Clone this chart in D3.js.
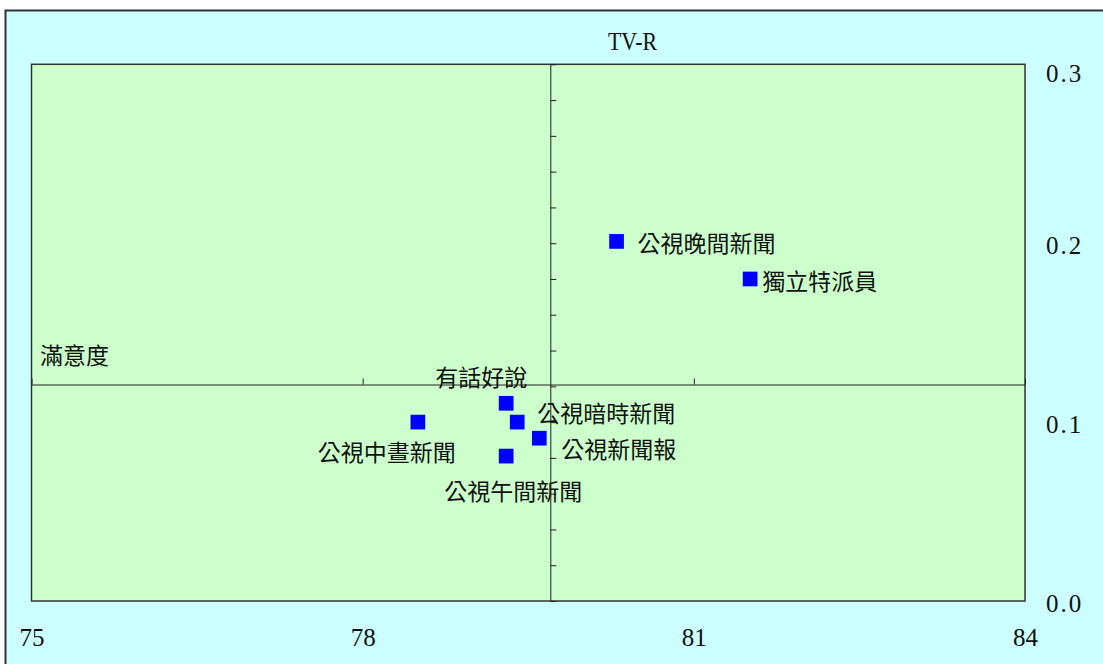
<!DOCTYPE html>
<html>
<head>
<meta charset="utf-8">
<script src="https://cdn.jsdelivr.net/npm/d3@7"></script>
<style>
  body { margin: 0; background: #fff; }
  text { font-family: "Liberation Serif", "Noto Sans CJK TC", serif; fill: #111; }
  .cjk { font-family: "Noto Sans CJK TC", sans-serif; font-size: 23px; }
  .num { font-size: 25px; }
</style>
</head>
<body>
<svg id="chart" width="1103" height="664"></svg>
<script>
// data
const programs = ["公視晚間新聞", "獨立特派員", "有話好說", "公視暗時新聞", "公視新聞報", "公視午間新聞", "公視中晝新聞"];
const satisfaction = [80.30, 81.51, 79.30, 79.40, 79.60, 79.30, 78.50];
const tvr = [0.201, 0.180, 0.1105, 0.100, 0.091, 0.081, 0.100];
const xTicks = [75, 78, 81, 84];
const yTicks = [0, 0.1, 0.2, 0.3];
const xMid = 79.7;   // crossing line (mean satisfaction)
const yMid = 0.121;  // crossing line (mean TV-R)

// label placement relative to each square: [dx, dy, anchor]
const labelPlace = {
  "公視晚間新聞": [21, 3, "start"],
  "獨立特派員": [12, 3, "start"],
  "有話好說": [21, -25, "end"],
  "公視暗時新聞": [20, -8, "start"],
  "公視新聞報": [22, 12, "start"],
  "公視午間新聞": [7, 36, "middle"],
  "公視中晝新聞": [38, 31, "end"]
};

const svg = d3.select("#chart");
const pLeft = 31.5, pRight = 1025, pTop = 64.3, pBottom = 601;

const x = d3.scaleLinear().domain([75, 84]).range([pLeft, pRight]);
const y = d3.scaleLinear().domain([0, 0.3]).range([pBottom, pTop]);

// outer frame
svg.append("rect")
  .attr("x", 5.5).attr("y", 10.5)
  .attr("width", 1110).attr("height", 670)
  .attr("fill", "#ccffff")
  .attr("stroke", "#333").attr("stroke-width", 2);

// plot area
svg.append("rect")
  .attr("x", pLeft).attr("y", pTop)
  .attr("width", pRight - pLeft).attr("height", pBottom - pTop)
  .attr("fill", "#ccffcc")
  .attr("stroke", "#333").attr("stroke-width", 1.5);

// crossing lines with their ticks
const vAxis = svg.append("g")
  .attr("transform", `translate(${x(xMid)},0)`)
  .call(d3.axisRight(y).tickValues(d3.range(0, 0.301, 0.02)).tickSize(6).tickSizeOuter(0).tickFormat(""));
const hAxis = svg.append("g")
  .attr("transform", `translate(0,${y(yMid)})`)
  .call(d3.axisTop(x).tickValues(xTicks).tickSize(6).tickSizeOuter(0).tickFormat(""));
[vAxis, hAxis].forEach(g => {
  g.select(".domain").attr("stroke", "#222");
  g.selectAll(".tick line").attr("stroke", "#222");
});

// tick labels
const xLab = svg.append("g")
  .attr("transform", `translate(0,${pBottom})`)
  .call(d3.axisBottom(x).tickValues(xTicks).tickSize(0).tickPadding(0).tickFormat(d3.format("d")));
xLab.select(".domain").remove();
xLab.selectAll("text")
  .attr("class", "num")
  .attr("y", 36).attr("dy", "0.35em");

const yLab = svg.append("g")
  .attr("transform", `translate(${pRight},0)`)
  .call(d3.axisRight(y).tickValues(yTicks).tickSize(0).tickPadding(0).tickFormat(d3.format(".1f")));
yLab.select(".domain").remove();
yLab.selectAll("text")
  .attr("class", "num")
  .attr("x", 21)
  .attr("dy", d => d === 0.3 ? "0.7em" : "0.42em")
  .style("letter-spacing", "2px");

// axis titles
svg.append("text")
  .attr("x", 608).attr("y", 50)
  .attr("font-size", 25)
  .attr("textLength", 49)
  .attr("lengthAdjust", "spacingAndGlyphs")
  .text("TV-R");

svg.append("text")
  .attr("class", "cjk")
  .attr("x", 40).attr("y", y(yMid) - 29)
  .attr("dy", "0.35em")
  .text("滿意度");

// points
const pts = programs.map((name, i) => ({ name, sx: satisfaction[i], r: tvr[i] }));
const size = 14.7;

svg.append("g")
  .selectAll("rect")
  .data(pts)
  .join("rect")
    .attr("x", d => x(d.sx) - size / 2)
    .attr("y", d => y(d.r) - size / 2)
    .attr("width", size).attr("height", size)
    .attr("fill", "#0000ff");

svg.append("g")
  .selectAll("text")
  .data(pts)
  .join("text")
    .attr("class", "cjk")
    .attr("x", d => x(d.sx) + labelPlace[d.name][0])
    .attr("y", d => y(d.r) + labelPlace[d.name][1])
    .attr("dy", "0.35em")
    .attr("text-anchor", d => labelPlace[d.name][2])
    .text(d => d.name);
</script>
</body>
</html>
